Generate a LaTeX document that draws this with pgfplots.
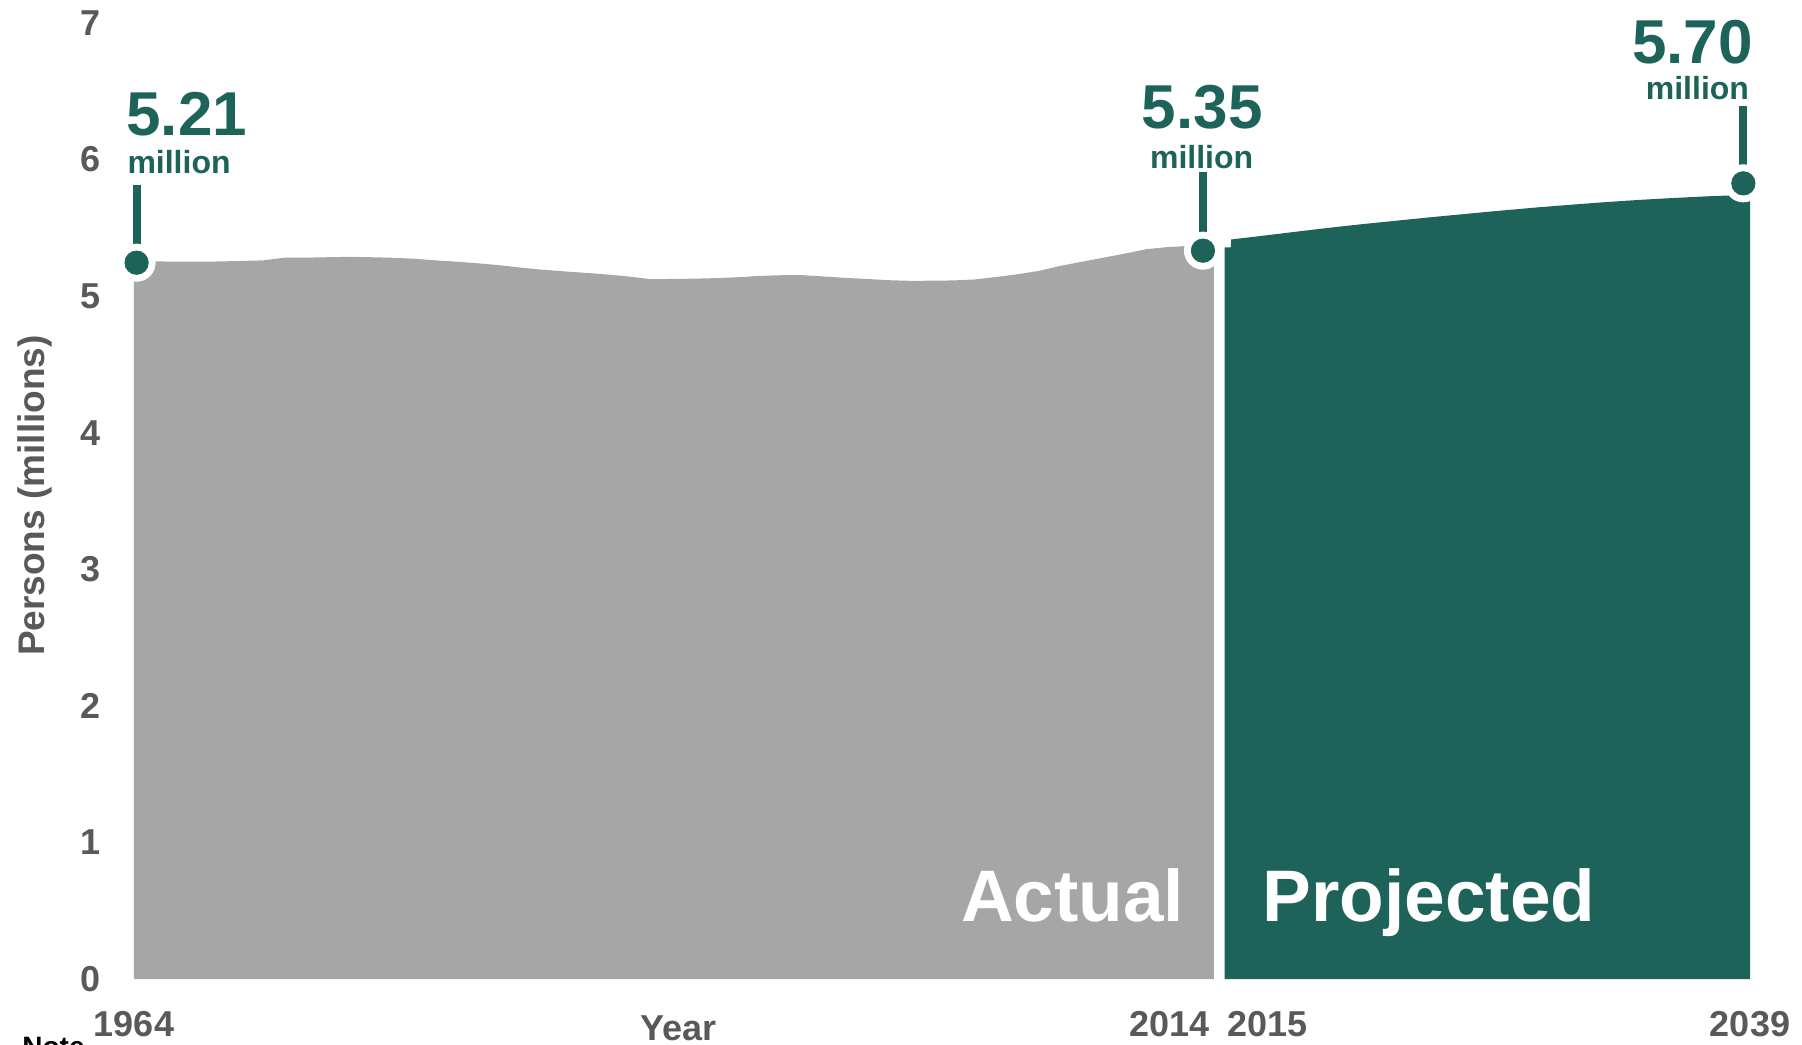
\documentclass[border=0pt]{standalone}
\usepackage{fontspec}
\setmainfont{Liberation Sans}
\usepackage{pgfplots}
\pgfplotsset{compat=1.18}
\definecolor{areagray}{HTML}{A6A6A6}
\definecolor{scgreen}{HTML}{1D6359}
\definecolor{txtgray}{HTML}{595959}
\newcommand\fs[1]{\fontsize{#1}{#1}\selectfont\bfseries}
\begin{document}
\begin{tikzpicture}
\begin{axis}[
  scale only axis, width=808pt, height=478pt,
  xmin=1964, xmax=2039, ymin=0, ymax=7,
  clip=false,
  axis line style={draw=none},
  major tick length=0pt,
  xtick={1964,2039}, ytick={0,1,2,3,4,5,6,7},
  /pgf/number format/assume math mode=true,
  /pgf/number format/1000 sep={},
  tick label style={font=\fs{18}, text=txtgray, inner sep=0pt},
  xticklabel style={anchor=north, yshift=-15.85pt},
  yticklabel style={anchor=east, xshift=-16.5pt},
  xlabel={Year}, ylabel={Persons (millions)},
  xlabel style={at={(axis cs:1989.25,-0.4467)}, anchor=base, font=\fs{18}, text=txtgray, inner sep=0pt},
  ylabel style={at={(axis cs:1959.41,3.54)}, anchor=center, font=\fs{18.5}, text=txtgray, inner sep=0pt},
]
% Actual
\addplot[fill=areagray, draw=none] coordinates {
(1964,5.252)(1965,5.255)(1966,5.252)(1967,5.252)(1968,5.254)(1969,5.258)
(1970,5.262)(1971,5.282)(1972,5.282)(1973,5.285)(1974,5.288)(1975,5.285)
(1976,5.281)(1977,5.274)(1978,5.262)(1979,5.252)(1980,5.240)(1981,5.226)
(1982,5.208)(1983,5.193)(1984,5.181)(1985,5.170)(1986,5.158)(1987,5.143)
(1988,5.124)(1989,5.126)(1990,5.128)(1991,5.132)(1992,5.138)(1993,5.148)
(1994,5.153)(1995,5.154)(1996,5.144)(1997,5.134)(1998,5.126)(1999,5.117)
(2000,5.112)(2001,5.113)(2002,5.115)(2003,5.122)(2004,5.140)(2005,5.160)
(2006,5.185)(2007,5.222)(2008,5.252)(2009,5.282)(2010,5.312)(2011,5.344)
(2012,5.360)(2013,5.368)(2014,5.372)(2014.12,5.372)
} \closedcycle;
% Projected
\addplot[fill=scgreen, draw=none] coordinates {
(2014.62,5.358)(2014.9,5.358)(2014.92,5.415)(2016,5.435)(2017,5.454)(2018,5.473)
(2019,5.492)(2020,5.510)(2021,5.527)(2022,5.543)(2023,5.559)(2024,5.575)
(2025,5.590)(2026,5.605)(2027,5.620)(2028,5.634)(2029,5.648)(2030,5.661)
(2031,5.673)(2032,5.685)(2033,5.696)(2034,5.706)(2035,5.715)(2036,5.723)
(2037,5.731)(2038,5.737)(2039,5.743)
} \closedcycle;
% white rings
\addplot[only marks, color=white, draw=none, fill=white, mark=*, mark size=9.3pt,
  mark options={draw=none, fill=white}]
 coordinates {(1964.12,5.245)(2013.61,5.333)(2038.69,5.826)};
% stems
\draw[scgreen, line width=4pt] (axis cs:1964.12,5.814) -- (axis cs:1964.12,5.245);
\draw[scgreen, line width=4pt] (axis cs:2013.62,5.911) -- (axis cs:2013.62,5.333);
\draw[scgreen, line width=4pt] (axis cs:2038.69,6.392) -- (axis cs:2038.69,5.826);
% dots
\addplot[only marks, color=scgreen, draw=none, fill=scgreen, mark=*, mark size=5.85pt,
  mark options={draw=none, fill=scgreen}]
 coordinates {(1964.12,5.245)(2013.61,5.333)(2038.69,5.826)};
% annotations
\node[anchor=base west, inner sep=0pt, text=scgreen, font=\fs{31}] at (axis cs:1963.63,6.173) {5.21};
\node[anchor=base west, inner sep=0pt, text=scgreen, font=\fs{16}] at (axis cs:1963.68,5.899) {million};
\node[anchor=base, inner sep=0pt, text=scgreen, font=\fs{31}] at (axis cs:2013.58,6.229) {5.35};
\node[anchor=base, inner sep=0pt, text=scgreen, font=\fs{16}] at (axis cs:2013.55,5.936) {million};
\node[anchor=base east, inner sep=0pt, text=scgreen, font=\fs{31}] at (axis cs:2039.15,6.705) {5.70};
\node[anchor=base east, inner sep=0pt, text=scgreen, font=\fs{16}] at (axis cs:2038.97,6.441) {million};
% panel labels
\node[anchor=base east, inner sep=0pt, text=white, font=\fs{36.5}] at (axis cs:2012.76,0.4247) {Actual};
\node[anchor=base west, inner sep=0pt, text=white, font=\fs{36.5}] at (axis cs:2016.36,0.4247) {Projected};
% extra year labels
\node[anchor=north east, inner sep=0pt, yshift=-15.85pt, text=txtgray, font=\fs{18}] at (axis cs:2013.92,0) {2014};
\node[anchor=north west, inner sep=0pt, yshift=-15.85pt, text=txtgray, font=\fs{18}] at (axis cs:2014.75,0) {2015};
% note (cut off at the bottom edge, as in the reference)
\node[anchor=north west, inner sep=0pt, text=black, font=\fs{14}] at (axis cs:1958.80,-0.4247) {Note};
\end{axis}
\pgfresetboundingbox
\useasboundingbox (-67pt,-32.5pt) rectangle (834pt,489.5pt);
\end{tikzpicture}
\end{document}
